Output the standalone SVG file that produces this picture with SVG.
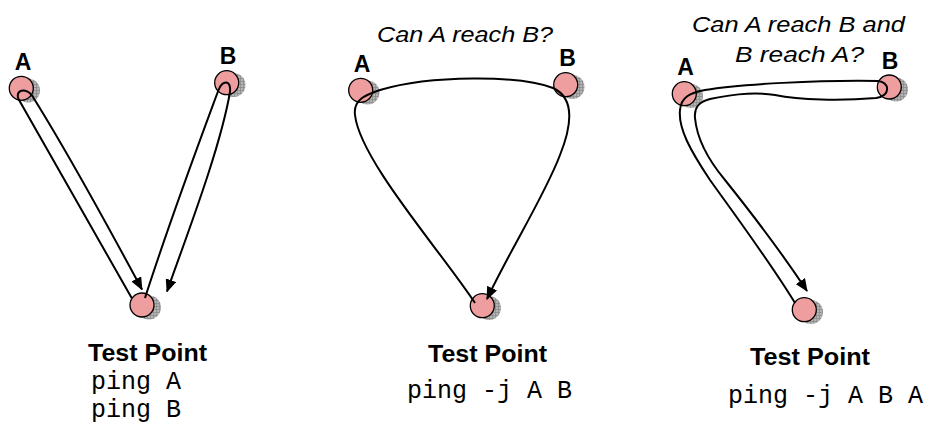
<svg xmlns="http://www.w3.org/2000/svg" width="931" height="424" viewBox="0 0 931 424">
<style>
.node{fill:#EE9E9E;stroke:#000;stroke-width:1.3}
.shadow{fill:url(#grid)}
.conn{fill:none;stroke:#000;stroke-width:2}
.lbl{font-family:"Liberation Sans",Arial,sans-serif;font-weight:bold;font-size:23px;text-anchor:middle;fill:#000}
.title{font-family:"Liberation Sans",Arial,sans-serif;font-weight:bold;font-size:23px;fill:#000}
.q{font-family:"Liberation Sans",Arial,sans-serif;font-style:italic;font-size:22.5px;fill:#000}
.cmd{font-family:"Liberation Mono","Courier New",monospace;font-size:25px;fill:#000}
</style>
<defs>
<pattern id="grid" width="3" height="3" patternUnits="userSpaceOnUse">
<rect width="3" height="3" fill="#b4b4b4"/>
<path d="M0 0.5H3M0.5 0V3" stroke="#8c8c8c" stroke-width="0.8"/>
</pattern>
<marker id="arr" markerWidth="13" markerHeight="11" refX="12" refY="5.5" orient="auto" markerUnits="userSpaceOnUse">
<path d="M0,0 L13,5.5 L0,11 Z" fill="#000"/>
</marker>
</defs>

<g id="p1-A"><circle class="shadow" cx="28" cy="90.5" r="12"/><circle class="node" cx="21.3" cy="88.3" r="12"/><text class="lbl" x="23" y="70">A</text></g>
<g id="p1-B"><circle class="shadow" cx="233.5" cy="85" r="12"/><circle class="node" cx="226.7" cy="82.7" r="12"/><text class="lbl" x="228" y="64">B</text></g>
<g id="p1-T"><circle class="shadow" cx="149" cy="307.5" r="12"/><circle class="node" cx="142" cy="305" r="12"/>
<text class="title" x="88" y="361" textLength="119" lengthAdjust="spacingAndGlyphs">Test Point</text>
<text class="cmd" x="91" y="389">ping A</text>
<text class="cmd" x="91" y="417">ping B</text></g>

<g id="p2-A"><circle class="shadow" cx="367.5" cy="92.5" r="12"/><circle class="node" cx="360.7" cy="90.3" r="12"/><text class="lbl" x="362" y="72">A</text></g>
<g id="p2-B"><circle class="shadow" cx="572.5" cy="87" r="12"/><circle class="node" cx="565.7" cy="84.7" r="12"/><text class="lbl" x="567.5" y="66">B</text></g>
<g id="p2-T"><circle class="shadow" cx="489" cy="308" r="12"/><circle class="node" cx="482.3" cy="305.7" r="12"/>
<text class="title" x="428" y="362" textLength="119" lengthAdjust="spacingAndGlyphs">Test Point</text>
<text class="cmd" x="407" y="398">ping -j A B</text></g>
<text class="q" x="377" y="42" textLength="176" lengthAdjust="spacingAndGlyphs">Can A reach B?</text>

<g id="p3-A"><circle class="shadow" cx="691" cy="96" r="12"/><circle class="node" cx="684.3" cy="93.7" r="12"/><text class="lbl" x="685.5" y="75">A</text></g>
<g id="p3-B"><circle class="shadow" cx="896" cy="89.5" r="12"/><circle class="node" cx="889.3" cy="87" r="12"/><text class="lbl" x="890" y="69">B</text></g>
<g id="p3-T"><circle class="shadow" cx="811" cy="312" r="12"/><circle class="node" cx="804.3" cy="309.7" r="12"/>
<text class="title" x="750" y="365" textLength="120" lengthAdjust="spacingAndGlyphs">Test Point</text>
<text class="cmd" x="728" y="403">ping -j A B A</text></g>
<text class="q" x="692" y="32" textLength="213" lengthAdjust="spacingAndGlyphs">Can A reach B and</text>
<text class="q" x="735" y="62" textLength="129" lengthAdjust="spacingAndGlyphs">B reach A?</text>

<g id="connectors">
<path class="conn" marker-end="url(#arr)" d="M131.7,298 L18.5,99 C16.5,94 19,90.5 23,90.5 C27,90.5 29.5,92.5 31.7,95 C60,140 110,230 142,289.5"/>
<path class="conn" marker-end="url(#arr)" d="M145,298 C170,220 200,140 218.5,90 C220.5,85 223,82.5 226,82.5 C229.5,82.5 230.5,87 230,92 C220,150 185,240 167,291.5"/>
<path class="conn" marker-end="url(#arr)" d="M475,303 C440,250 360,160 355,115 C353,100 365,95 380,90 C430,75 520,75 553,88 C575,98 572,125 560,155 C545,195 510,250 487,299"/>
<path class="conn" marker-end="url(#arr)" d="M795,303 C770,262 735,215 710,180 C690,150 678,128 680,110 C681,97 690,93 705,90 C740,84 820,80 878,81 C890,82 891,96 876,98 C840,101 800,100 775,95 C750,91 725,96 710,99 C698,102 694,108 695,118 C697,140 710,162 725,180 C745,205 780,250 807,291"/>
</g>
</svg>
